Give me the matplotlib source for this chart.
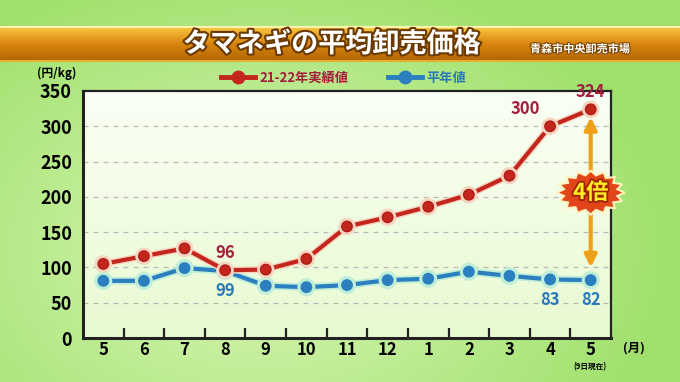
import numpy as np
import matplotlib
matplotlib.use("Agg")
import matplotlib.pyplot as plt
import matplotlib.patheffects as pe
import matplotlib.transforms as mtransforms
from matplotlib.patches import Polygon
from matplotlib.lines import Line2D

plt.rcParams['font.family'] = ['Noto Sans CJK JP', 'DejaVu Sans']

# ---- data ----
months = ["5", "6", "7", "8", "9", "10", "11", "12", "1", "2", "3", "4", "5"]
actual = [105, 116, 127, 96, 97, 112, 158, 171, 186, 203, 230, 300, 324]
normal = [81, 81, 99, 95, 74, 72, 75, 82, 84, 94, 88, 83, 82]
actual_labels = {3: "96", 11: "300", 12: "324"}
normal_labels = {3: "99", 11: "83", 12: "82"}
yticks = [0, 50, 100, 150, 200, 250, 300, 350]
title = "タマネギの平均卸売価格"
source = "青森市中央卸売市場"
series_names = ["21-22年実績値", "平年値"]

RED = "#c3261c"
RED_TXT = "#a51d3d"
BLUE = "#2b7fbf"
BLUE_TXT = "#2a78b6"

fig = plt.figure(figsize=(6.8, 3.82), dpi=100)

# ---- background ----
bg = fig.add_axes([0, 0, 1, 1], zorder=-10)
bg.set_axis_off()
yy, xx = np.mgrid[0:382, 0:680]
r = np.sqrt(((xx - 260) / 420.0) ** 2 + ((yy - 250) / 300.0) ** 2)
t = np.clip(r, 0, 1)
c1 = np.array([0.86, 0.97, 0.72])
c2 = np.array([0.62, 0.88, 0.42])
img = c1[None, None, :] * (1 - t[..., None]) + c2[None, None, :] * t[..., None]
bg.imshow(img, extent=[0, 680, 382, 0], aspect='auto')
# title bar
bar = np.zeros((34, 1, 3))
top = np.array([0.98, 0.78, 0.25])
mid = np.array([0.85, 0.52, 0.05])
bot = np.array([0.70, 0.40, 0.02])
for i in range(34):
    f = i / 33
    if f < 0.5:
        bar[i, 0] = top * (1 - f * 2) + mid * f * 2
    else:
        bar[i, 0] = mid * (1 - (f - 0.5) * 2) + bot * (f - 0.5) * 2
bg.imshow(bar, extent=[0, 680, 61, 27], aspect='auto')
bg.plot([0, 680], [27, 27], color="#fff3b0", lw=1.5)
bg.plot([0, 680], [61, 61], color="#e8b030", lw=1.5)
bg.set_xlim(0, 680)
bg.set_ylim(382, 0)

# ---- main axes ----
ax = fig.add_axes([83 / 680, 1 - 338 / 382, (611 - 83) / 680, (338 - 91) / 382])
grad = np.linspace(0, 1, 100)[:, None, None]
ctop = np.array([0.98, 1.0, 0.96])
cbot = np.array([0.91, 0.98, 0.82])
pimg = ctop * (1 - grad) + cbot * grad
ax.imshow(pimg, extent=[-0.5, 12.5, 0, 350], aspect='auto', zorder=0)

x = np.arange(len(months))
for yv in yticks[1:-1]:
    ax.axhline(yv, color="#b8b8b8", lw=0.9, ls=(0, (4, 4)), zorder=1)

ax.plot(x, normal, color=BLUE, lw=3.0, marker='o', ms=7.5, mfc=BLUE, mec=BLUE, zorder=3,
        path_effects=[pe.Stroke(linewidth=5.5, foreground="#bfeed8"), pe.Normal()])
ax.plot(x, actual, color=RED, lw=3.0, marker='o', ms=7.5, mfc=RED, mec="#b01c14", zorder=4,
        path_effects=[pe.Stroke(linewidth=5, foreground="#f6d4c0"), pe.Normal()])

ax.set_xlim(-0.5, 12.5)
ax.set_ylim(0, 350)
ax.set_yticks(yticks)
ax.set_yticklabels([str(v) for v in yticks], fontsize=13, fontweight='bold')
ax.set_xticks(x)
ax.set_xticklabels(months, fontsize=12, fontweight='bold')
ax.tick_params(axis='y', length=0, pad=8)
ax.tick_params(axis='x', length=0, pad=2)
ax.set_xticks(np.arange(0.5, 12, 1), minor=True)
ax.tick_params(axis='x', which='minor', direction='in', length=7, width=1.6, color='#222222')
for s in ax.spines.values():
    s.set_color("#222222")
    s.set_linewidth(1.6)
ax.spines['left'].set_linewidth(2.2)
ax.spines['bottom'].set_linewidth(2.2)

# data labels
for i, s in actual_labels.items():
    ax.annotate(s, (x[i], actual[i]), xytext=(-18 if i == 11 else 0, 6), textcoords='offset points',
                ha='center', va='bottom', color=RED_TXT, fontsize=12, fontweight='bold', zorder=6)
for i, s in normal_labels.items():
    ax.annotate(s, (x[i], normal[i]), xytext=(0, -8), textcoords='offset points',
                ha='center', va='top', color=BLUE_TXT, fontsize=12, fontweight='bold', zorder=6)

# double arrow
ax.annotate("", xy=(12, 100), xytext=(12, 313),
            arrowprops=dict(arrowstyle='<|-|>', color="#f0a018", lw=3, mutation_scale=18,
                            shrinkA=0, shrinkB=0), zorder=5)

# starburst with 4倍
n = 16
ang = np.linspace(0, 2 * np.pi, 2 * n, endpoint=False)
rad = np.where(np.arange(2 * n) % 2 == 0, 1.0, 0.8)
px = 0.34 * rad * np.cos(ang)
py = 0.22 * rad * np.sin(ang)
trans = fig.dpi_scale_trans + mtransforms.ScaledTranslation(12, 206, ax.transData)
ax.add_patch(Polygon(np.column_stack([px, py]), closed=True, transform=trans,
                     facecolor="#e2451a", edgecolor="#fff3c0", lw=1.5, zorder=7, clip_on=False))
ax.text(12, 206, "4倍", ha='center', va='center', fontsize=16, fontweight='bold', color="#ffee22",
        zorder=8, path_effects=[pe.withStroke(linewidth=2.5, foreground="#a02000")])

# ---- texts ----
fig.text(332 / 680, 1 - 44 / 382, title, ha='center', va='center', fontsize=19.5, fontweight='bold',
         color='white', path_effects=[pe.withStroke(linewidth=3, foreground="#6a3a00")])
fig.text(580 / 680, 1 - 49 / 382, source, ha='center', va='center', fontsize=8, fontweight='bold',
         color='white', path_effects=[pe.withStroke(linewidth=1.5, foreground="#7a4500")])
fig.text(57 / 680, 1 - 73 / 382, "(円/kg)", ha='center', va='center', fontsize=8.5, fontweight='bold')
fig.text(634 / 680, 1 - 348 / 382, "(月)", ha='center', va='center', fontsize=9, fontweight='bold')
fig.text(590 / 680, 1 - 367 / 382, "(9日現在)", ha='center', va='center', fontsize=5.5, fontweight='bold')

# legend
h1 = Line2D([], [], color=RED, lw=3.5, marker='o', ms=9, mfc=RED, mec=RED)
h2 = Line2D([], [], color=BLUE, lw=3.5, marker='o', ms=9, mfc=BLUE, mec=BLUE)
leg = fig.legend([h1, h2], series_names, loc='center', bbox_to_anchor=(0.505, 1 - 78 / 382), ncol=2,
                 frameon=False, prop={'size': 9.5, 'weight': 'bold'}, handlelength=2.6,
                 columnspacing=3.0, handletextpad=0.3)
leg.get_texts()[0].set_color(RED_TXT)
leg.get_texts()[1].set_color(BLUE_TXT)

fig.savefig("out.png", dpi=100)
